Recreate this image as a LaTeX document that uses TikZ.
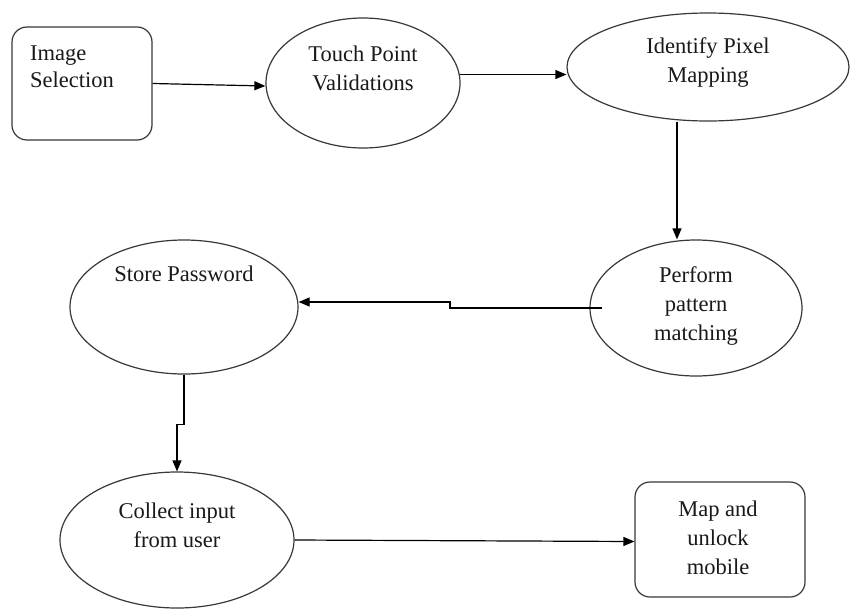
\documentclass[tikz,border=0pt]{standalone}
\usepackage{fontspec}
\setmainfont{Liberation Serif}
\usetikzlibrary{arrows.meta,shapes.geometric}
\begin{document}
\begin{tikzpicture}[x=1pt,y=-1pt,
  shapeline/.style={draw=black!78,line width=1.2pt},
  oval/.style={shapeline,ellipse,inner sep=0pt},
  roundbox/.style={shapeline,rectangle,rounded corners=15pt,inner sep=0pt},
  label/.style={inner sep=0pt,align=center,text=black!90,
    font=\fontsize{22.5}{29}\selectfont},
  arr/.style={draw=black,line width=1.2pt,-{Triangle[length=11pt,width=9pt]}}]
  % canvas
  \fill[white] (0,0) rectangle (851,608);
  \useasboundingbox (0,0) rectangle (851,608);

  % shapes
  \node[roundbox,minimum width=140pt,minimum height=113pt] (img) at (82,83.5) {};
  \node[oval,minimum width=194pt,minimum height=130pt] (touch) at (363,83) {};
  \node[oval,minimum width=282pt,minimum height=108pt] (ident) at (708,67) {};
  \node[oval,minimum width=212pt,minimum height=136pt] (perf) at (696,308) {};
  \node[oval,minimum width=228pt,minimum height=134pt] (store) at (184,307) {};
  \node[oval,minimum width=234pt,minimum height=136pt] (coll) at (177,540) {};
  \node[roundbox,minimum width=170pt,minimum height=115pt] (map) at (720,539.5) {};

  % texts
  \node[label,align=left,anchor=west,font=\fontsize{22.5}{27}\selectfont] (imgT) at (30,67) {Image\\Selection};
  \node[label] (touchT) at (363,68) {Touch Point\\Validations};
  \node[label] (identT) at (708,63) {Identify Pixel\\Mapping};
  \node[label] (perfT) at (696,306) {Perform\\pattern\\matching};
  \node[label] (storeT) at (184,274) {Store Password};
  \node[label] (collT) at (177,525) {Collect input\\from user};
  \node[label] (mapT) at (718,538) {Map and\\unlock\\mobile};

  % connectors
  \draw[arr] (img.east) -- ([yshift=-3pt]touch.west);
  \draw[arr] (touch.5) -- (touch.5 -| ident.west);
  \draw[arr] ([xshift=-31pt]ident.south) -- ([xshift=-31pt]ident.south |- perf.north);
  \coordinate (pstart) at ([xshift=13pt]perf.west);
  \coordinate (pstep) at (450,308);
  \coordinate (starget) at ([yshift=5pt]store.east);
  \draw[arr] (pstart) -- (pstep) -- (pstep |- starget) -- (starget);
  \draw[arr] (store.south) -- ++(0,50) -| (coll.north);
  \draw[arr] (coll.east) -- ([yshift=-2pt]map.west);
\end{tikzpicture}
\end{document}
